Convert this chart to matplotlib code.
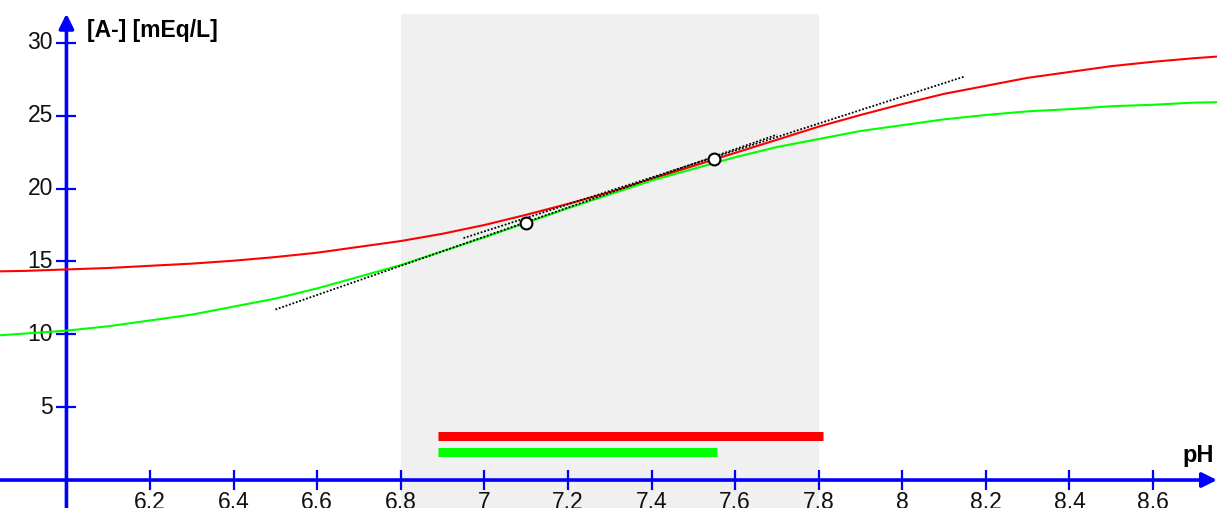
import matplotlib
matplotlib.use("Agg")
import matplotlib.pyplot as plt

plt.rcParams['font.family'] = ['Liberation Sans Narrow', 'Liberation Sans', 'DejaVu Sans']

# pH grid and curves
ph = [5.8, 5.9, 6.0, 6.1, 6.2, 6.3, 6.4, 6.5, 6.6, 6.7, 6.8, 6.9, 7.0, 7.1, 7.2, 7.3,
      7.4, 7.5, 7.6, 7.7, 7.8, 7.9, 8.0, 8.1, 8.2, 8.3, 8.4, 8.5, 8.6, 8.7, 8.8]
red = [14.3, 14.35, 14.45, 14.55, 14.7, 14.85, 15.05, 15.3, 15.6, 16.0, 16.4, 16.9,
       17.5, 18.2, 18.95, 19.75, 20.65, 21.55, 22.45, 23.35, 24.25, 25.05, 25.8, 26.5,
       27.05, 27.6, 28.0, 28.4, 28.7, 28.95, 29.15]
green = [9.85, 10.05, 10.25, 10.55, 10.95, 11.35, 11.9, 12.45, 13.15, 13.95, 14.75,
         15.7, 16.65, 17.65, 18.65, 19.6, 20.55, 21.35, 22.15, 22.85, 23.4, 23.95, 24.35,
         24.75, 25.05, 25.3, 25.45, 25.65, 25.75, 25.9, 25.95]

# tangent lines (dotted) and tangent points
tan_a_x = [6.5, 7.7]
tan_a_y = [11.7, 23.7]
tan_b_x = [6.95, 8.15]
tan_b_y = [16.6, 27.7]
pts_x = [7.1, 7.55]
pts_y = [17.65, 22.05]

# shaded normal range and range bars
shade = [6.8, 7.8]
red_bar = [6.89, 7.81, 3.0]
green_bar = [6.89, 7.557, 1.9]

xticks = [6.2, 6.4, 6.6, 6.8, 7, 7.2, 7.4, 7.6, 7.8, 8, 8.2, 8.4, 8.6]
xlabels = ['6.2', '6.4', '6.6', '6.8', '7', '7.2', '7.4', '7.6', '7.8', '8', '8.2', '8.4', '8.6']
yticks = [5, 10, 15, 20, 25, 30]

xmin, xmax = 5.841, 8.753
ymin, ymax = -1.92, 32.94
blue = '#0000ff'

fig = plt.figure(figsize=(12.17, 5.08), dpi=100)
ax = fig.add_axes([0, 0, 1, 1])
ax.set_xlim(xmin, xmax)
ax.set_ylim(ymin, ymax)
ax.axis('off')

ax.fill_between(shade, ymin, 32.0, color='#f0f0f0', lw=0, zorder=0)

ax.hlines(red_bar[2], red_bar[0], red_bar[1], color='#ff0000', lw=6.5, capstyle='butt', zorder=2)
ax.hlines(green_bar[2], green_bar[0], green_bar[1], color='#00ff00', lw=6.5, capstyle='butt', zorder=2)

# axes with arrows
ax.annotate('', xy=(6.0, 32.0), xytext=(6.0, ymin), zorder=3,
            arrowprops=dict(arrowstyle='-|>', color=blue, lw=2.6, mutation_scale=22, shrinkA=0, shrinkB=0))
ax.annotate('', xy=(xmax, 0), xytext=(xmin, 0), zorder=3,
            arrowprops=dict(arrowstyle='-|>', color=blue, lw=2.6, mutation_scale=22, shrinkA=0, shrinkB=0))

dx = 10 / 417.9
dy = 10 / 14.57
ax.hlines(yticks, 6.0 - dx, 6.0 + dx, color=blue, lw=1.6, zorder=3)
ax.vlines(xticks, -dy, dy, color=blue, lw=1.6, zorder=3)

for v in yticks:
    ax.text(6.0 - 0.032, v, str(v), ha='right', va='center', fontsize=16.5, color='#111111')
for v, lab in zip(xticks, xlabels):
    ax.text(v, -0.72, lab, ha='center', va='top', fontsize=16.5, color='#111111')

ax.text(6.05, 30.85, '[A-] [mEq/L]', ha='left', va='center', fontsize=16.5, fontweight='bold')
ax.text(8.745, 1.7, 'pH', ha='right', va='center', fontsize=17, fontweight='bold')

ax.plot(ph, red, color='#ff0000', lw=1.5, zorder=4)
ax.plot(ph, green, color='#00ff00', lw=1.5, zorder=4)
ax.plot(tan_a_x, tan_a_y, color='black', lw=1.3, ls=(0, (1, 1)), zorder=5)
ax.plot(tan_b_x, tan_b_y, color='black', lw=1.3, ls=(0, (1, 1)), zorder=5)
ax.plot(pts_x, pts_y, 'o', ms=8.5, mfc='white', mec='black', mew=1.5, zorder=6)

fig.savefig('out.png', dpi=100)
